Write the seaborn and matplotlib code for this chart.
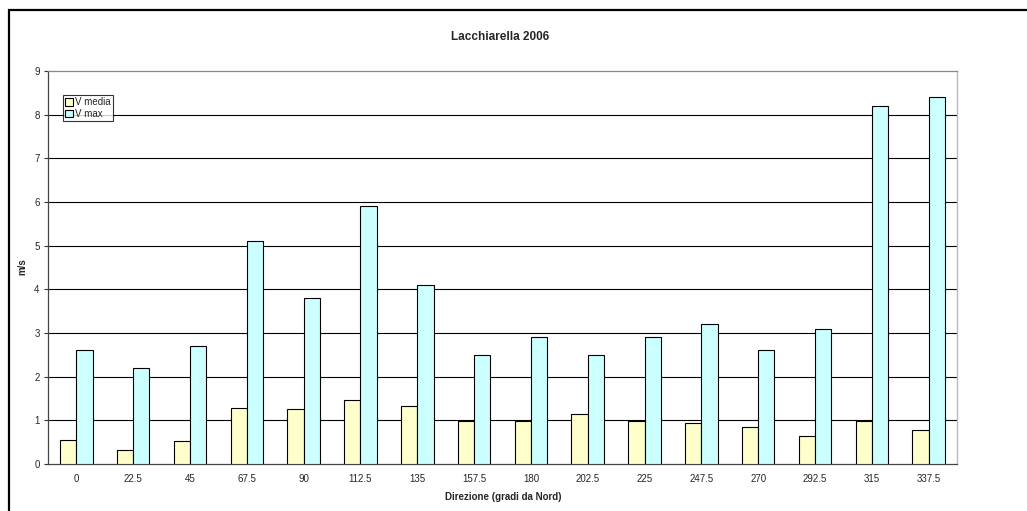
import matplotlib
matplotlib.use("Agg")
import matplotlib.pyplot as plt
import seaborn as sns
import pandas as pd
import numpy as np
from matplotlib.patches import Rectangle

directions = ["0", "22.5", "45", "67.5", "90", "112.5", "135", "157.5", "180",
              "202.5", "225", "247.5", "270", "292.5", "315", "337.5"]
v_media = [0.54, 0.33, 0.52, 1.28, 1.27, 1.46, 1.33, 0.98, 0.98, 1.14, 0.98,
           0.95, 0.84, 0.65, 0.98, 0.77]
v_max = [2.6, 2.2, 2.7, 5.1, 3.8, 5.9, 4.1, 2.5, 2.9, 2.5, 2.9, 3.2, 2.6,
         3.1, 8.2, 8.4]
series_names = ["V media", "V max"]
y_ticks = list(range(0, 10))

df = pd.DataFrame({
    "dir": directions * 2,
    "v": v_media + v_max,
    "serie": [series_names[0]] * len(directions) + [series_names[1]] * len(directions),
})

sns.set_style("white")
plt.rcParams["font.family"] = ["Liberation Sans", "DejaVu Sans"]

fig = plt.figure(figsize=(10.27, 5.11), dpi=100)
ax = fig.add_axes([48 / 1027, 1 - 464 / 511, (957 - 48) / 1027, (464 - 71) / 511])

palette = {"V media": "#FFFFCC", "V max": "#CCFFFF"}
sns.barplot(data=df, x="dir", y="v", hue="serie", order=directions,
            hue_order=series_names, palette=palette, width=0.5714, gap=0,
            edgecolor="black", linewidth=0.8, saturation=1, ax=ax, zorder=3,
            legend=True)

ax.set_ylim(0, 9)
ax.set_xlim(-0.5, len(directions) - 0.5)
ax.set_yticks(y_ticks)
ax.set_yticklabels([str(t) for t in y_ticks], fontsize=7)
for t in y_ticks[1:-1]:
    ax.axhline(t, color="black", lw=0.8, zorder=1)

ax.tick_params(axis="x", which="major", length=0, labelsize=7, pad=7)
ax.set_xticks(np.arange(-0.5, len(directions) + 0.5, 1), minor=True)
ax.tick_params(axis="x", which="minor", length=3, color="#333333", width=0.8)
ax.tick_params(axis="y", which="major", length=3, color="#333333", width=0.8,
               direction="out", left=True, pad=3)

for s in ["left", "bottom"]:
    ax.spines[s].set_color("#444444")
    ax.spines[s].set_linewidth(0.9)
ax.spines["top"].set_color("#888888")
ax.spines["top"].set_linewidth(0.9)
ax.spines["right"].set_color("#BBBBBB")
ax.spines["right"].set_linewidth(1.0)

ax.set_xlabel("")
ax.set_ylabel("")
fig.text(503 / 1027, 1 - 497 / 511, "Direzione (gradi da Nord)", ha="center",
         va="center", fontsize=7, fontweight="bold")
fig.text(22 / 1027, 1 - 267 / 511, "m/s", ha="center", va="center",
         fontsize=7, fontweight="bold", rotation=90)
fig.text(500 / 1027, 1 - 37 / 511, "Lacchiarella 2006", ha="center",
         va="center", fontsize=8.5, fontweight="bold")

handles, labels = ax.get_legend_handles_labels()
leg = ax.legend(handles, labels, loc="upper left",
                bbox_to_anchor=(63 / 1027, 1 - 95 / 511),
                bbox_transform=fig.transFigure, fontsize=7, frameon=True,
                fancybox=False, handlelength=0.8, handleheight=0.8,
                handletextpad=0.2, borderpad=0.25, labelspacing=0.15,
                borderaxespad=0)
leg.get_frame().set_edgecolor("black")
leg.get_frame().set_linewidth(0.8)
leg.set_zorder(5)

fig.patches.append(Rectangle((8.5 / 1027, -0.1), 1.2, 1 - 10 / 511 + 0.1,
                             transform=fig.transFigure, fill=False,
                             edgecolor="black", linewidth=1.6))

fig.savefig("out.png", dpi=100)
